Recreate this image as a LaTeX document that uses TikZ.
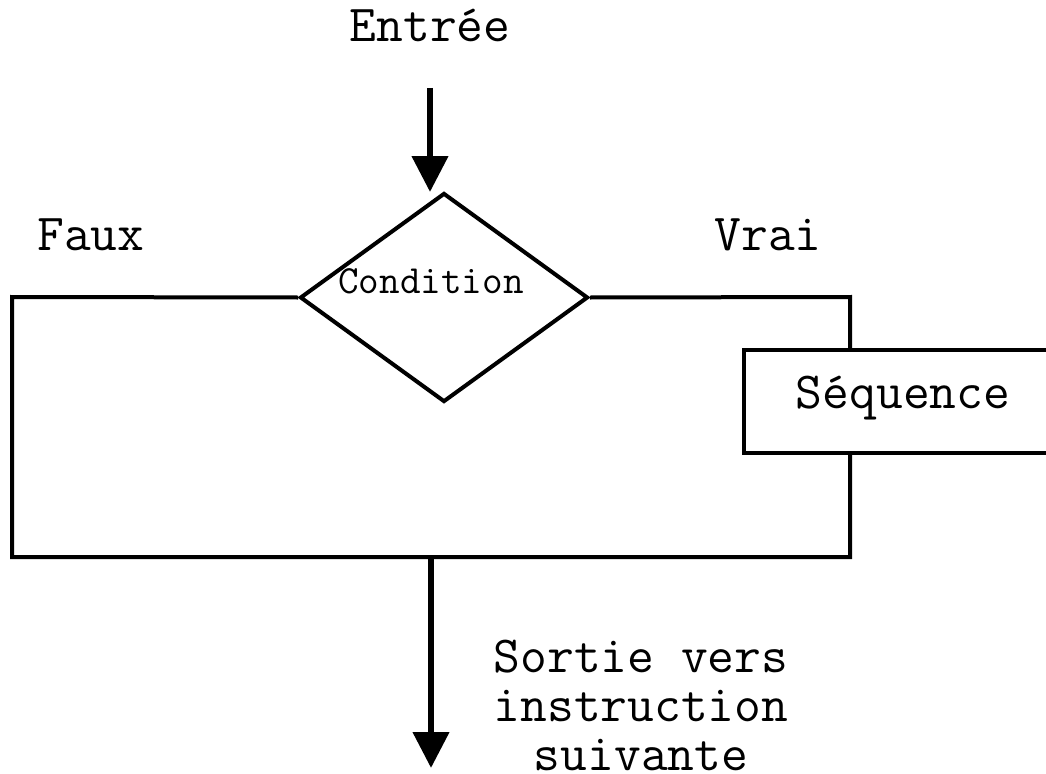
\documentclass[tikz,border=0pt]{standalone}
\usepackage{fontspec}
\usetikzlibrary{shapes.geometric,arrows.meta}
\begin{document}
\begin{tikzpicture}[x=0.75pt,y=-0.75pt,
  line/.style={line width=3pt},
  flowarrow/.style={line width=4.8pt,-{Triangle[length=27pt,width=26.5pt]}},
  label/.style={font=\ttfamily\fontsize{39}{36.75}\selectfont,anchor=base,inner sep=0pt},
  small/.style={font=\ttfamily\fontsize{30}{34}\selectfont,anchor=base,inner sep=0pt}]
\useasboundingbox (0,0) rectangle (1046,774);
\clip (0,0) rectangle (1046,774);

% decision and action shapes
\node[draw,line,diamond,inner sep=0pt,minimum width=216pt,minimum height=156.75pt] (cond) at (444,297.5) {};
\node[draw,line,rectangle,inner sep=0pt,minimum width=229.5pt,minimum height=77.25pt] (seq) at (897,401.5) {};

% labels
\node[label] (entree) at (430,42) {Entrée};
\node[label] (faux) at (91,250) {Faux};
\node[label] (vrai) at (768,250) {Vrai};
\node[small] (condtxt) at (431,293) {Condition};
\node[label] (seqtxt) at (903,408) {Séquence};
% base anchor of a multi-line node sits on its last line
\node[label,align=center] (sortie) at (641,770) {Sortie vers\\instruction\\suivante};

% connector anchors
\coordinate (inTop) at (430,88);
\coordinate (inTip) at (430,192);
\coordinate (leftTop) at (12,297);
\coordinate (leftBot) at (12,557);
\coordinate (rightTop) at (850,297);
\coordinate (rightBot) at (850,557);
\coordinate (outTop) at (431,557);
\coordinate (outTip) at (431,768);

% entry arrow
\draw[flowarrow] (inTop) -- (inTip);

% false branch and merge
\draw[line] (cond.west) -- (leftTop) -- (leftBot) -- (rightBot) -- (rightBot |- seq.south);
% true branch
\draw[line] (cond.east) -- (rightTop) -- (rightTop |- seq.north);

% exit arrow
\draw[flowarrow] (outTop) -- (outTip);
\end{tikzpicture}
\end{document}
